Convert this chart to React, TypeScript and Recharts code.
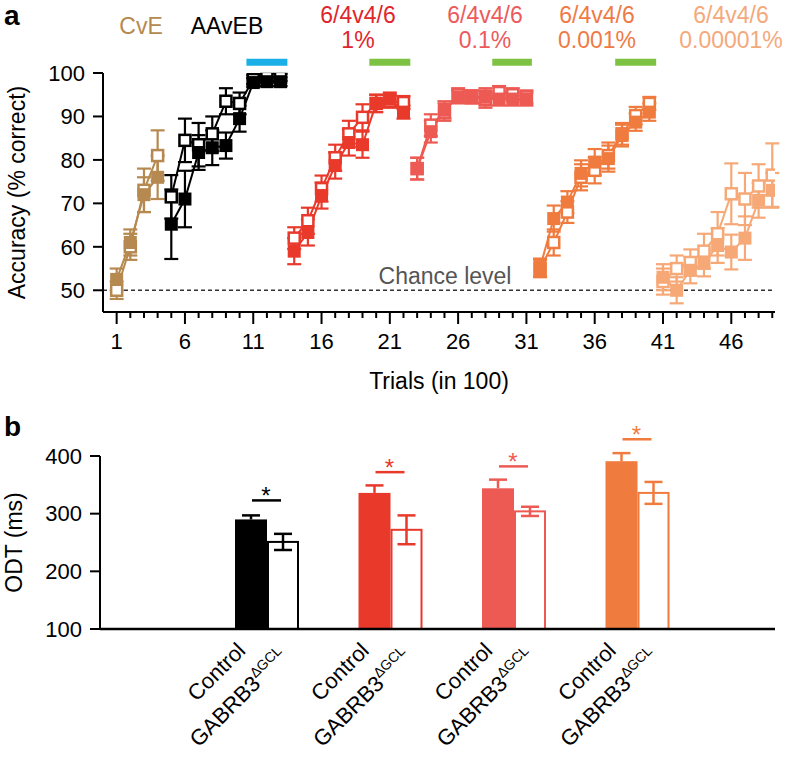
import React from 'react';
import { ComposedChart, BarChart, Line, Bar, XAxis, YAxis, ErrorBar, ReferenceLine } from 'recharts';

const FONT = '"Liberation Sans", Arial, Helvetica, sans-serif';

// ---- panel a: accuracy per block of 100 trials (filled = control, open = GABRB3) ----
const cveTrials = [1, 2, 3, 4];
const cveCtrl = [52.5, 61, 72, 76];
const cveCtrlErr = [2.5, 3, 4, 5];
const cveMut = [50, 60, 73, 81];
const cveMutErr = [2, 3, 5, 5.8];

const aavebTrials = [5, 6, 7, 8, 9, 10, 11, 12, 13];
const aavebCtrl = [65.2, 71, 81.7, 82.8, 83.3, 89.5, 97.8, 98, 98];
const aavebCtrlErr = [8, 6.5, 4, 4, 3, 3, 1, 1, 1];
const aavebMut = [71.5, 84.5, 83.5, 86, 93.5, 93, 98.5, 99, 99];
const aavebMutErr = [5, 5, 5, 4, 3, 2.5, 1, 0.8, 0.8];

const p1Trials = [14, 15, 16, 17, 18, 19, 20, 21, 22];
const p1Ctrl = [59, 63.3, 71.8, 78.7, 84, 83.5, 93, 94, 91];
const p1CtrlErr = [3, 3, 3, 3, 3, 3, 2, 1.5, 1.5];
const p1Mut = [62, 66, 73.4, 80.5, 86, 89.8, 93, 93.5, 93.2];
const p1MutErr = [2.5, 3, 3, 3, 3, 3, 2, 1.5, 1.5];

const p01Trials = [23, 24, 25, 26, 27, 28, 29, 30, 31];
const p01Ctrl = [78, 86.5, 91.5, 94.5, 94.5, 94.5, 94, 94, 94];
const p01CtrlErr = [2.5, 2.5, 2, 1.5, 1.5, 2, 1.5, 1.5, 1.5];
const p01Mut = [78, 88, 91, 95, 94.5, 94, 95.5, 95, 94.5];
const p01MutErr = [2.5, 2.5, 2, 1.5, 1.5, 2, 1.5, 1.5, 1.5];

const p001Trials = [32, 33, 34, 35, 36, 37, 38, 39, 40];
const p001Ctrl = [55.3, 66.5, 70.3, 76.9, 79.5, 80.3, 85.6, 88.7, 91];
const p001CtrlErr = [2, 3, 2.5, 3, 3, 3, 2.5, 2, 2];
const p001Mut = [55, 61, 68, 76, 77.6, 81, 86, 90.2, 93];
const p001MutErr = [2, 3, 2.5, 3, 3, 3, 2.5, 2, 1.5];

const p00001Trials = [41, 42, 43, 44, 45, 46, 47, 48, 49];
const p00001Ctrl = [53, 50, 54.6, 56.2, 60.3, 58.8, 62, 70.7, 73];
const p00001CtrlErr = [3, 3, 3, 3, 4, 4, 5, 4, 4];
const p00001Mut = [52, 55, 56.4, 59, 63, 72.2, 71, 74, 76.5];
const p00001MutErr = [3, 3, 3, 4, 5, 7, 6, 5, 7.3];

const trialTicks = Array.from({ length: 49 }, (_, i) => i + 1);
const labeledTrials = [1, 6, 11, 16, 21, 26, 31, 36, 41, 46];
const accuracyTicks = [50, 60, 70, 80, 90, 100];

// criterion bars drawn above the curves
const criterionBars = [
  { from: 10.5, to: 13.5, color: '#1aafe6' },
  { from: 19.5, to: 22.5, color: '#7dc242' },
  { from: 28.5, to: 31.4, color: '#7dc242' },
  { from: 37.5, to: 40.5, color: '#7dc242' },
];

const rows = (t: number[], v: number[], e: number[]) => t.map((x, i) => ({ t: x, v: v[i], e: e[i] }));

const groups = [
  { color: '#b5894f', ctrl: rows(cveTrials, cveCtrl, cveCtrlErr), mut: rows(cveTrials, cveMut, cveMutErr) },
  { color: '#000000', ctrl: rows(aavebTrials, aavebCtrl, aavebCtrlErr), mut: rows(aavebTrials, aavebMut, aavebMutErr) },
  { color: '#e8392b', ctrl: rows(p1Trials, p1Ctrl, p1CtrlErr), mut: rows(p1Trials, p1Mut, p1MutErr) },
  { color: '#ed5a53', ctrl: rows(p01Trials, p01Ctrl, p01CtrlErr), mut: rows(p01Trials, p01Mut, p01MutErr) },
  { color: '#f07b3e', ctrl: rows(p001Trials, p001Ctrl, p001CtrlErr), mut: rows(p001Trials, p001Mut, p001MutErr) },
  { color: '#f6a876', ctrl: rows(p00001Trials, p00001Ctrl, p00001CtrlErr), mut: rows(p00001Trials, p00001Mut, p00001MutErr) },
];

// ---- panel b: odor decision time ----
const odtGroups = ['AAvEB', '1%', '0.1%', '0.001%'];
const odtColors = ['#000000', '#e8392b', '#ed5a53', '#f07b3e'];
const odtControl = [290, 336, 344, 391];
const odtControlErr = [7, 13, 15, 14];
const odtMutant = [251, 272, 304, 336];
const odtMutantErr = [14, 25, 8, 19];
const odtSig = [323, 372, 382, 429];
const odtTicks = [100, 200, 300, 400];
const ctrlLabel = 'Control';
const mutLabel = 'GABRB3';
const mutSup = '\u0394GCL';

const odtData = odtGroups.map((g, i) => ({
  group: g,
  color: odtColors[i],
  control: odtControl[i],
  controlErr: odtControlErr[i],
  mutant: odtMutant[i],
  mutantErr: odtMutantErr[i],
  sig: odtSig[i],
}));

const squareDot = (color: string, filled: boolean) => (props: any) => {
  const { cx, cy, index } = props;
  if (cx == null || cy == null) return <g key={index} />;
  if (filled) return <rect key={index} x={cx - 6.5} y={cy - 6.5} width={13} height={13} fill={color} />;
  return <rect key={index} x={cx - 5.5} y={cy - 5.5} width={11} height={11} fill="#fff" stroke={color} strokeWidth={2.5} />;
};

const TrialTick = (props: any) => {
  const { x, y, payload } = props;
  const major = labeledTrials.includes(payload.value);
  return (
    <g>
      <line x1={x} x2={x} y1={y} y2={y + (major ? 12 : 6)} stroke="#000" strokeWidth={2} />
      {major && (
        <text x={x} y={y + 37} textAnchor="middle" fontSize={22} fontFamily={FONT} fill="#000">
          {payload.value}
        </text>
      )}
    </g>
  );
};

const ChanceLabel = (props: any) => {
  const { viewBox } = props;
  return (
    <text x={viewBox.x + viewBox.width / 2 + 6} y={viewBox.y - 6} textAnchor="middle" fontSize={23} fontFamily={FONT} fill="#555">
      Chance level
    </text>
  );
};

// two rotated labels under each pair of bars
const renderOdtTick = (props: any) => {
  const { x, y, index } = props;
  const ax = x - 20;
  const ay = y + 23;
  const bx = x + 22;
  const by = y + 29;
  return (
    <g key={`odt-${index}`}>
      <text x={ax} y={ay} transform={`rotate(-45, ${ax}, ${ay})`} textAnchor="end" fontFamily={FONT} fontSize={22} fill="#000">
        {ctrlLabel}
      </text>
      <text x={bx} y={by} transform={`rotate(-45, ${bx}, ${by})`} textAnchor="end" fontFamily={FONT} fontSize={22} fill="#000">
        {mutLabel}
        <tspan fontSize={14} dy={-9}>{mutSup}</tspan>
      </text>
    </g>
  );
};

const odtBar = (kind: 'ctrl' | 'mut') => (props: any) => {
  const { x, y, width, height, payload } = props;
  const color = payload.color;
  const value = kind === 'ctrl' ? payload.control : payload.mutant;
  const err = kind === 'ctrl' ? payload.controlErr : payload.mutantErr;
  const ppu = height / (value - 100);
  const base = y + height;
  const cx = x + width / 2;
  const yHi = y - err * ppu;
  const yLo = y + err * ppu;
  const cap = 9;
  if (kind === 'ctrl') {
    return (
      <g>
        <rect x={x} y={y} width={width} height={height} fill={color} />
        <line x1={cx} x2={cx} y1={yHi} y2={y} stroke={color} strokeWidth={2.5} />
        <line x1={cx - cap} x2={cx + cap} y1={yHi} y2={yHi} stroke={color} strokeWidth={2.5} />
      </g>
    );
  }
  const sigPx = base - (payload.sig - 100) * ppu;
  return (
    <g>
      <rect x={x + 1} y={y} width={width - 2} height={height} fill="#fff" stroke={color} strokeWidth={2} />
      <line x1={cx} x2={cx} y1={yHi} y2={yLo} stroke={color} strokeWidth={2.5} />
      <line x1={cx - cap} x2={cx + cap} y1={yHi} y2={yHi} stroke={color} strokeWidth={2.5} />
      <line x1={cx - cap} x2={cx + cap} y1={yLo} y2={yLo} stroke={color} strokeWidth={2.5} />
      <line x1={x - 15} x2={x + 14} y1={sigPx} y2={sigPx} stroke={color} strokeWidth={2.5} />
      <text x={x - 1} y={sigPx + 4} textAnchor="middle" fontSize={24} fontFamily={FONT} fill={color}>*</text>
    </g>
  );
};

const groupLabels = [
  { lines: ['CvE'], x: 141, color: '#b5894f' },
  { lines: ['AAvEB'], x: 227, color: '#000' },
  { lines: ['6/4v4/6', '1%'], x: 358, color: '#e0252c' },
  { lines: ['6/4v4/6', '0.1%'], x: 485, color: '#ec5a5c' },
  { lines: ['6/4v4/6', '0.001%'], x: 597, color: '#ee7a45' },
  { lines: ['6/4v4/6', '0.00001%'], x: 731, color: '#f4a97c' },
];

export default function App() {
  return (
    <div style={{ position: 'absolute', left: 0, top: 0, width: 786, height: 759, background: '#fff', fontFamily: FONT }}>
      <div style={{ position: 'absolute', left: 4, top: 2, fontSize: 28, lineHeight: '28px', fontWeight: 'bold' }}>a</div>
      <div style={{ position: 'absolute', left: 4, top: 413, fontSize: 28, lineHeight: '28px', fontWeight: 'bold' }}>b</div>
      {groupLabels.map((g) => (
        <div
          key={g.x}
          style={{
            position: 'absolute',
            left: g.x,
            top: g.lines.length > 1 ? 3 : 14,
            transform: 'translateX(-50%)',
            fontSize: 23,
            lineHeight: '25px',
            color: g.color,
            textAlign: 'center',
            whiteSpace: 'nowrap',
          }}
        >
          {g.lines.map((l) => (
            <div key={l}>{l}</div>
          ))}
        </div>
      ))}

      <div style={{ position: 'absolute', left: 0, top: 0 }}>
        <ComposedChart width={786} height={400} margin={{ top: 73, right: 11, bottom: 3, left: 30 }}>
          <XAxis
            type="number"
            dataKey="t"
            domain={[0, 49.2]}
            allowDataOverflow
            ticks={trialTicks}
            interval={0}
            tick={<TrialTick />}
            tickLine={false}
            tickSize={0}
            tickMargin={0}
            height={85}
            axisLine={{ stroke: '#000', strokeWidth: 2 }}
            label={{ value: 'Trials (in 100)', position: 'insideBottom', offset: 8, fontSize: 23, fontFamily: FONT, fill: '#000' }}
          />
          <YAxis
            type="number"
            domain={[45, 100]}
            allowDataOverflow
            ticks={accuracyTicks}
            interval={0}
            width={73}
            tickSize={10}
            tickMargin={8}
            tick={{ fill: '#000', fontSize: 22, fontFamily: FONT }}
            tickLine={{ stroke: '#000', strokeWidth: 2 }}
            axisLine={{ stroke: '#000', strokeWidth: 2 }}
            label={{ value: 'Accuracy (% correct)', angle: -90, position: 'center', dx: -50, fontSize: 23, fontFamily: FONT, fill: '#000' }}
          />
          <ReferenceLine y={50} stroke="#333" strokeWidth={1.5} strokeDasharray="4 3" label={<ChanceLabel />} />
          {criterionBars.map((b) => (
            <ReferenceLine
              key={b.from}
              segment={[{ x: b.from, y: 102.5 }, { x: b.to, y: 102.5 }]}
              stroke={b.color}
              strokeWidth={7}
              ifOverflow="visible"
            />
          ))}
          {groups.flatMap((g, gi) => [
            <Line
              key={`m${gi}`}
              data={g.mut}
              dataKey="v"
              type="linear"
              stroke={g.color}
              strokeWidth={2}
              dot={squareDot(g.color, false)}
              activeDot={false}
              isAnimationActive={false}
            >
              <ErrorBar dataKey="e" width={7} stroke={g.color} strokeWidth={2.2} direction="y" />
            </Line>,
            <Line
              key={`c${gi}`}
              data={g.ctrl}
              dataKey="v"
              type="linear"
              stroke={g.color}
              strokeWidth={2}
              dot={squareDot(g.color, true)}
              activeDot={false}
              isAnimationActive={false}
            >
              <ErrorBar dataKey="e" width={7} stroke={g.color} strokeWidth={2.2} direction="y" />
            </Line>,
          ])}
        </ComposedChart>
      </div>

      <div style={{ position: 'absolute', left: 0, top: 400 }}>
        <BarChart
          width={786}
          height={359}
          data={odtData}
          margin={{ top: 56, right: 11, bottom: 0, left: 27 }}
          barSize={32}
          barGap={0}
        >
          <XAxis
            dataKey="group"
            type="category"
            padding={{ left: 105, right: 76 }}
            interval={0}
            tickLine={false}
            tickSize={0}
            tickMargin={0}
            height={130}
            tick={renderOdtTick}
            axisLine={{ stroke: '#000', strokeWidth: 2.5 }}
          />
          <YAxis
            type="number"
            domain={[100, 400]}
            ticks={odtTicks}
            interval={0}
            width={73}
            tickSize={10}
            tickMargin={8}
            tick={{ fill: '#000', fontSize: 22, fontFamily: FONT }}
            tickLine={{ stroke: '#000', strokeWidth: 2 }}
            axisLine={{ stroke: '#000', strokeWidth: 2 }}
            label={{ value: 'ODT (ms)', angle: -90, position: 'center', dx: -50, fontSize: 23, fontFamily: FONT, fill: '#000' }}
          />
          <Bar dataKey="control" shape={odtBar('ctrl')} isAnimationActive={false} />
          <Bar dataKey="mutant" shape={odtBar('mut')} isAnimationActive={false} />
        </BarChart>
      </div>
    </div>
  );
}
